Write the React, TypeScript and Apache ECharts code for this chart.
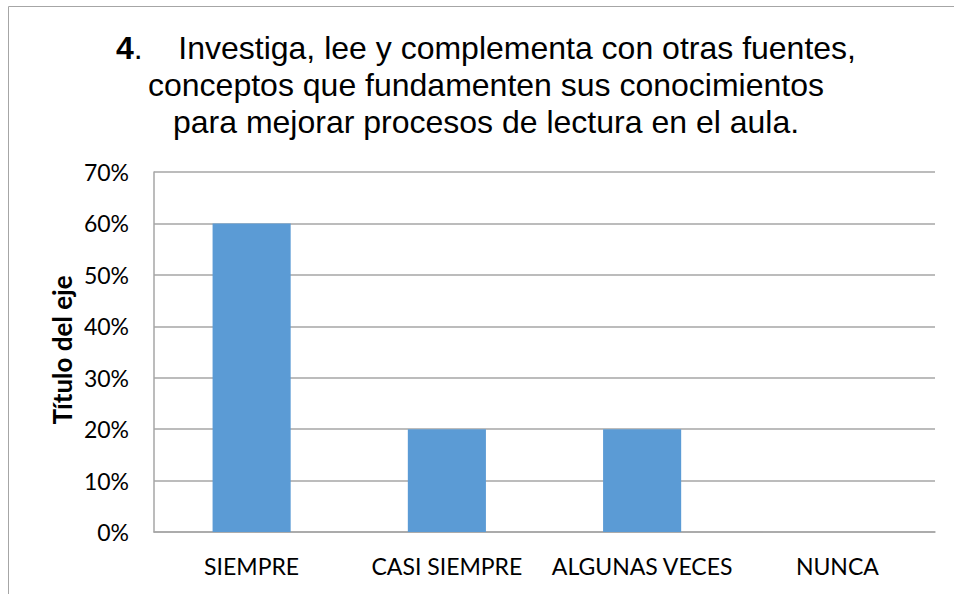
import React, { useEffect, useRef } from "react";
import * as echarts from "echarts";

const categories = ["SIEMPRE", "CASI SIEMPRE", "ALGUNAS VECES", "NUNCA"];
const values = [0.6, 0.2, 0.2, 0];
const titleLines = [
  "Investiga, lee y complementa con otras fuentes,",
  "conceptos que fundamenten sus conocimientos",
  "para mejorar procesos de lectura en el aula.",
];
const axisTitle = "Título del eje";

export default function App() {
  const ref = useRef<HTMLDivElement>(null);
  useEffect(() => {
    if (!ref.current) return;
    const chart = echarts.init(ref.current, null, { renderer: "svg" });
    chart.setOption({
      animation: false,
      backgroundColor: "#ffffff",
      graphic: [
        {
          type: "rect",
          silent: true,
          shape: { x: 8.5, y: 6.5, width: 980, height: 620 },
          style: { fill: "none", stroke: "#a6a6a6", lineWidth: 1 },
        },
        {
          type: "text",
          x: 486,
          y: 29,
          style: {
            text:
              "{b|4}.    " + titleLines[0] + "\n" + titleLines[1] + "\n" + titleLines[2],
            align: "center",
            verticalAlign: "top",
            fontFamily: "Liberation Sans, Arial, sans-serif",
            fontSize: 32,
            lineHeight: 37,
            fill: "#000000",
            rich: {
              b: {
                fontFamily: "Liberation Sans, Arial, sans-serif",
                fontSize: 32,
                fontWeight: "bold",
                lineHeight: 37,
                fill: "#000000",
              },
            },
          },
        },
        {
          type: "text",
          x: 62,
          y: 350,
          rotation: Math.PI / 2,
          style: {
            text: axisTitle,
            align: "center",
            verticalAlign: "middle",
            fontFamily: "Lato, sans-serif",
            fontWeight: "bold",
            fontSize: 26,
            fill: "#000000",
          },
        },
      ],
      grid: { left: 154, top: 172, right: 19, bottom: 62, containLabel: false },
      xAxis: {
        type: "category",
        data: categories,
        axisLine: { lineStyle: { color: "#a6a6a6", width: 1.5 } },
        axisTick: { show: false },
        axisLabel: {
          color: "#000000",
          fontFamily: "Lato, sans-serif",
          fontSize: 23,
          margin: 22,
          interval: 0,
        },
      },
      yAxis: {
        type: "value",
        min: 0,
        max: 0.7,
        interval: 0.1,
        axisLine: { show: true, lineStyle: { color: "#a6a6a6", width: 1.5 } },
        axisTick: { show: false },
        splitLine: { lineStyle: { color: "#a6a6a6", width: 1.5 } },
        axisLabel: {
          color: "#000000",
          fontFamily: "Lato, sans-serif",
          fontSize: 23,
          margin: 25,
          formatter: (v: number) => Math.round(v * 100) + "%",
        },
      },
      series: [
        {
          type: "bar",
          data: values,
          barWidth: "40%",
          itemStyle: { color: "#5b9bd5" },
        },
      ],
    });
    return () => chart.dispose();
  }, []);
  return (
    <div
      ref={ref}
      style={{ position: "absolute", left: 0, top: 0, width: 954, height: 594 }}
    />
  );
}
